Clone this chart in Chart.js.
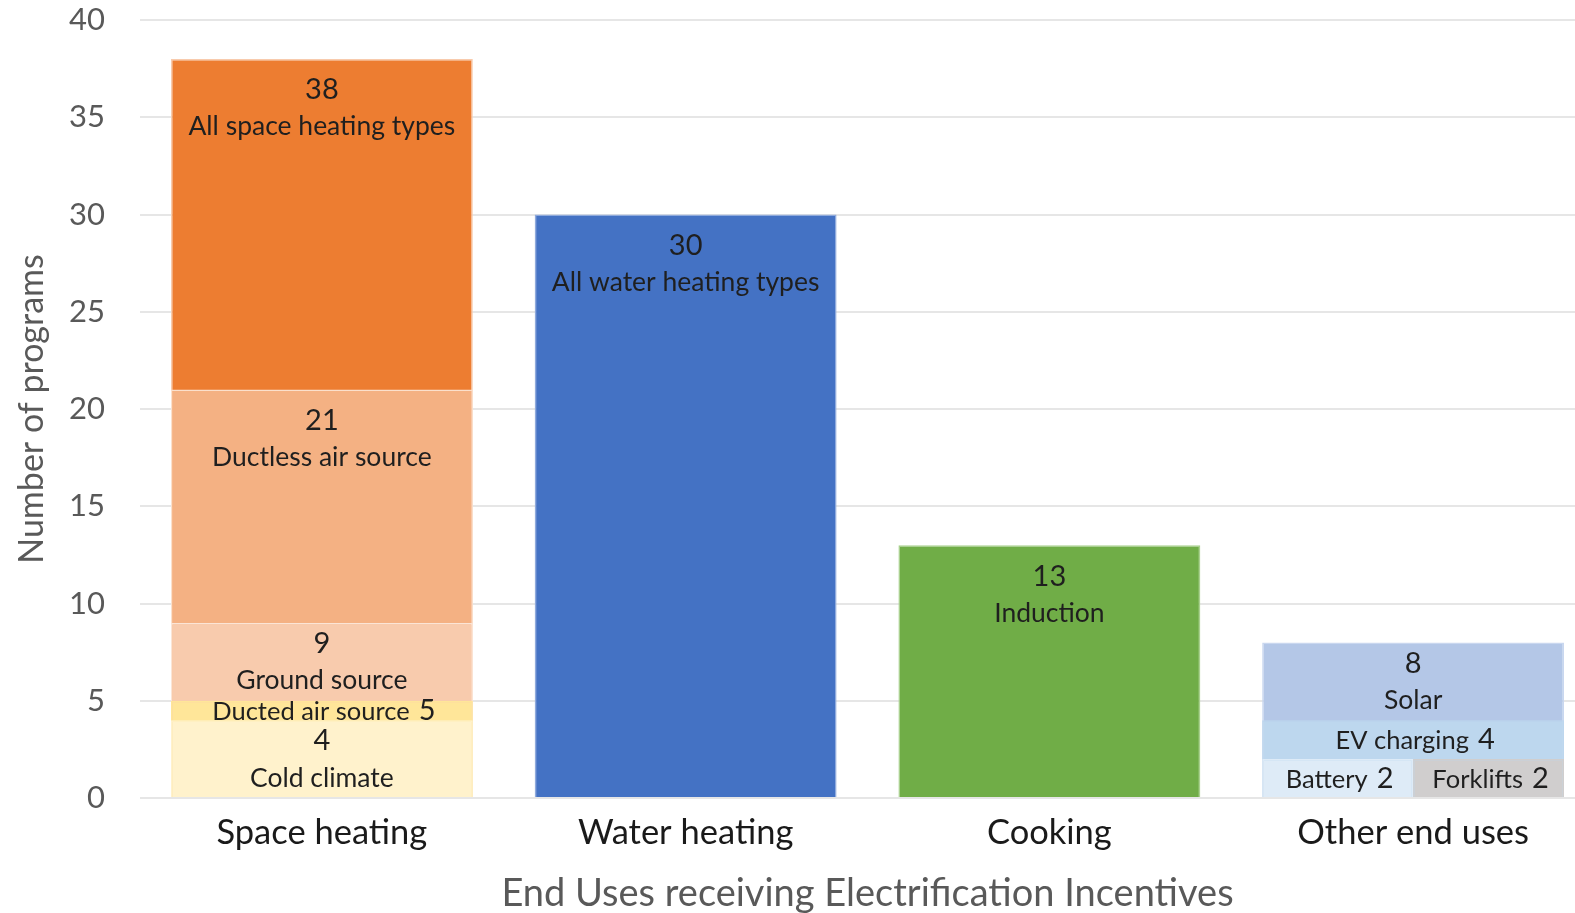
<!DOCTYPE html>
<html>
<head>
<meta charset="utf-8">
<script src="https://cdn.jsdelivr.net/npm/chart.js@4/dist/chart.umd.min.js"></script>
<style>
  html, body { margin: 0; padding: 0; background: #ffffff; overflow: hidden; }
  #wrap { position: relative; width: 1597px; height: 913px; }
</style>
</head>
<body>
<div id="wrap"><canvas id="chart"></canvas></div>
<script>
// End-use categories along the x axis
const categories = ['Space heating', 'Water heating', 'Cooking', 'Other end uses'];

// Each segment: its name, which category it sits in, and its program count
const segmentNames = [
  'All space heating types', 'Ductless air source', 'Ground source', 'Ducted air source', 'Cold climate',
  'All water heating types',
  'Induction',
  'Solar', 'EV charging', 'Battery', 'Forklifts'
];
const segmentCategory = [0, 0, 0, 0, 0, 1, 2, 3, 3, 3, 3];
const segmentValues   = [38, 21, 9, 5, 4, 30, 13, 8, 4, 2, 2];
// Segments that share the bottom of their column side by side
const segmentSideBySide = [false, false, false, false, false, false, false, false, false, true, true];

// Fill and edge colours for the segments
const segmentColors = [
  '#ED7D31', '#F4B183', '#F8CBAD', '#FFE699', '#FFF2CC',
  '#4472C4',
  '#70AD47',
  '#B4C7E7', '#BDD7EE', '#DEEBF7', '#D0CECE'
];
const segmentEdges = [
  '#F8CBAD', '#FBE0CC', '#FBE5D6', '#FFE699', '#FFF2CC',
  '#8FAADC',
  '#A9D18E',
  '#C9D7EF', '#BDD7EE', '#DEEBF7', '#D0CECE'
];

const yTickStep = 5;
const yMax = 40;

const FONT = 'Lato, "Open Sans", "Liberation Sans", sans-serif';

const datasets = segmentNames.map((name, k) => ({
  label: name,
  catIndex: segmentCategory[k],
  data: categories.map((_, c) => (c === segmentCategory[k] ? segmentValues[k] : null)),
  backgroundColor: segmentColors[k],
  borderColor: segmentEdges[k],
  borderWidth: 1.5,
  grouped: segmentSideBySide[k],
  order: segmentValues[k],
  categoryPercentage: 0.83,
  barPercentage: 1
}));

// Writes the count and name inside each visible band of every column
const segmentLabels = {
  id: 'segmentLabels',
  afterDatasetsDraw(chart) {
    const ctx = chart.ctx;
    const yScale = chart.scales.y;
    ctx.save();
    ctx.fillStyle = '#1f1f1f';
    ctx.textAlign = 'center';
    ctx.textBaseline = 'middle';
    chart.data.datasets.forEach((ds, di) => {
      const i = ds.catIndex;
      const bar = chart.getDatasetMeta(di).data[i];
      const v = ds.data[i];
      // the highest smaller segment that sits under this one
      let floor = 0;
      chart.data.datasets.forEach((o, oi) => {
        if (oi === di || o.catIndex !== i) return;
        const ob = chart.getDatasetMeta(oi).data[i];
        const ov = o.data[i];
        if (ov < v && Math.abs(ob.x - bar.x) < (ob.width + bar.width) / 2 - 2) floor = Math.max(floor, ov);
      });
      const top = yScale.getPixelForValue(v);
      const bottom = yScale.getPixelForValue(floor);
      const band = bottom - top;
      const numFont = '29px ' + FONT;
      const nameFont = '26.5px ' + FONT;
      if (band < 50) {
        // single line: name followed by the count
        const gap = 9;
        const lineNameFont = '25.5px ' + FONT;
        ctx.font = lineNameFont;
        const wName = ctx.measureText(ds.label).width;
        ctx.font = numFont;
        const wNum = ctx.measureText(String(v)).width;
        const total = wName + gap + wNum;
        const x0 = bar.x - total / 2 + 2;
        const yc = (top + bottom) / 2 + 1;
        ctx.textAlign = 'left';
        ctx.font = lineNameFont;
        ctx.fillText(ds.label, x0, yc);
        ctx.font = numFont;
        ctx.fillText(String(v), x0 + wName + gap, yc - 1);
        ctx.textAlign = 'center';
      } else {
        let yNum, yName;
        if (band < 120) {
          const mid = (top + bottom) / 2;
          yNum = mid - 18;
          yName = mid + 19;
        } else {
          yNum = top + 31;
          yName = top + 68;
        }
        ctx.font = numFont;
        ctx.fillText(String(v), bar.x, yNum);
        ctx.font = nameFont;
        ctx.fillText(ds.label, bar.x, yName);
      }
    });
    ctx.restore();
  }
};

new Chart(document.getElementById('chart'), {
  type: 'bar',
  data: { labels: categories, datasets },
  options: {
    responsive: true,
    maintainAspectRatio: false,
    animation: false,
    layout: { padding: { top: 0, right: 2, left: 0, bottom: 0 } },
    plugins: {
      legend: { display: false },
      tooltip: { enabled: false }
    },
    scales: {
      x: {
        grid: { display: false },
        border: { display: false },
        ticks: {
          color: '#1a1a1a',
          font: { family: FONT, size: 34.5 },
          padding: 6,
          maxRotation: 0
        },
        title: {
          display: true,
          text: 'End Uses receiving Electrification Incentives',
          color: '#595959',
          font: { family: FONT, size: 38 },
          padding: { top: 2, bottom: -4 }
        },
        afterFit(scale) { scale.height = 115; }
      },
      y: {
        min: 0,
        max: yMax,
        ticks: {
          stepSize: yTickStep,
          color: '#595959',
          font: { family: FONT, size: 31 },
          padding: 35
        },
        grid: { color: '#E6E6E6', lineWidth: 2, drawTicks: false },
        border: { display: false },
        title: {
          display: true,
          text: 'Number of programs',
          color: '#595959',
          font: { family: FONT, size: 34 },
          padding: { top: 12, bottom: 0 }
        },
        afterFit(scale) {
          scale.width = 140;
          scale.paddingTop = 20;
          scale.paddingBottom = 0;
        }
      }
    }
  },
  plugins: [segmentLabels]
});
</script>
</body>
</html>
